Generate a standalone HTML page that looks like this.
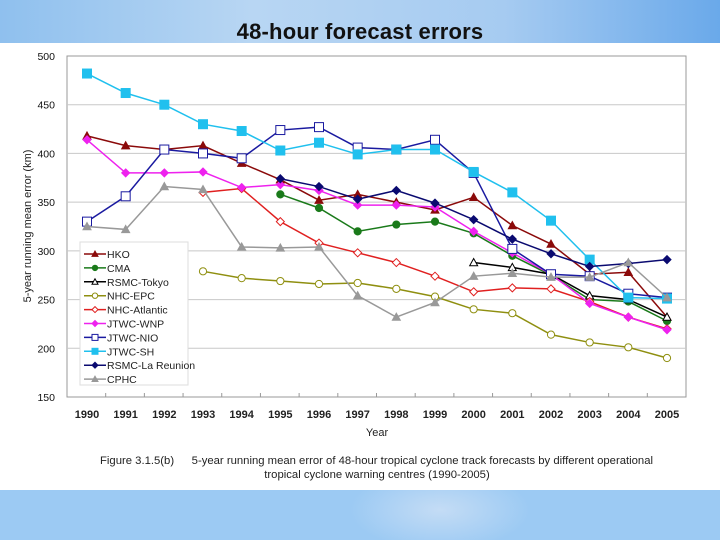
<!DOCTYPE html>
<html><head><meta charset="utf-8"><style>
html,body{margin:0;padding:0;width:720px;height:540px;overflow:hidden;background:#fff;font-family:"Liberation Sans",sans-serif}
#top{position:absolute;left:0;top:0;width:720px;height:43px;background:linear-gradient(90deg,#8fc0ee 0%,#b8d6f3 35%,#a6cbf1 70%,#6aa9ea 100%)}
#bot{position:absolute;left:0;top:490px;width:720px;height:50px;background:radial-gradient(ellipse 90px 40px at 440px 20px,#c4dcf5,#9ccaf3 100%)}
#title{position:absolute;left:0;width:720px;top:19px;text-align:center;font-size:22px;font-weight:bold;color:#111;letter-spacing:0.2px}
svg{position:absolute;left:0;top:0}
</style></head><body>
<div id="top"></div>
<div id="bot"></div>
<div id="title">48-hour forecast errors</div>
<svg id="chart" width="720" height="540"></svg>
<script>
const years=[1990,1991,1992,1993,1994,1995,1996,1997,1998,1999,2000,2001,2002,2003,2004,2005];
const yTicks=[150,200,250,300,350,400,450,500];
const hko=[418,408,404,408,390,373,352,358,350,342,355,326,307,276,278,232];
const cma=[null,null,null,null,null,358,344,320,327,330,318,295,275,250,248,228];
const tokyo=[null,null,null,null,null,null,null,null,null,null,288,283,276,254,250,232];
const nhcEpc=[null,null,null,279,272,269,266,267,261,253,240,236,214,206,201,190];
const nhcAtl=[null,null,null,360,364,330,308,298,288,274,258,262,261,248,232,220];
const jtwcWnp=[414,380,380,381,365,368,362,347,347,345,320,298,276,246,232,219];
const jtwcNio=[330,356,404,400,395,424,427,406,404,414,380,302,276,274,256,252];
const jtwcSh=[482,462,450,430,423,403,411,399,404,404,381,360,331,291,252,251];
const reunion=[null,null,null,null,null,374,366,353,362,349,332,312,297,284,287,291];
const cphc=[325,322,366,363,304,303,304,254,232,247,274,277,273,273,288,252];
const seriesNames=["HKO","CMA","RSMC-Tokyo","NHC-EPC","NHC-Atlantic","JTWC-WNP","JTWC-NIO","JTWC-SH","RSMC-La Reunion","CPHC"];
const seriesData=[hko,cma,tokyo,nhcEpc,nhcAtl,jtwcWnp,jtwcNio,jtwcSh,reunion,cphc];
const seriesColor=["#8b0a0a","#1a7a1a","#000000","#8f8f10","#e02020","#ee22ee","#1a1aa0","#20c0ee","#0a0a70","#999999"];
const seriesMark=["tri","circle","otri","ocircle","odiamond","diamond","osquare","square","diamond","tri"];
const ns="http://www.w3.org/2000/svg";
const svg=document.getElementById('chart');
const X0=67,X1=686,Y0=56,Y1=397;
function xs(i){return 87+i*(667-87)/15;}
function ys(v){return Y1-(v-150)*(Y1-Y0)/350;}
function mk(tag,at,parent){const e=document.createElementNS(ns,tag);for(const k in at)e.setAttribute(k,at[k]);(parent||svg).appendChild(e);return e;}
const frame=mk('rect',{x:X0,y:Y0,width:X1-X0,height:Y1-Y0,fill:'#fff',stroke:'#999','stroke-width':1});


yTicks.forEach(t=>{
  if(t>150&&t<500){const g=mk('line',{x1:X0,x2:X1,y1:ys(t),y2:ys(t),stroke:'#c8c8c8','stroke-width':1});
  
  }
  const tx=mk('text',{x:55,y:ys(t)+4,'font-size':10.5,'text-anchor':'end',fill:'#111'});tx.textContent=t;
  
  
});
years.forEach((yr,i)=>{
  const tk=mk('line',{x1:X0+(i+1)*(X1-X0)/16,x2:X0+(i+1)*(X1-X0)/16,y1:Y1,y2:Y1-4,stroke:'#999'});
  
  
  const tx=mk('text',{x:xs(i),y:418,'font-size':11,'text-anchor':'middle','font-weight':'bold',fill:'#222'});tx.textContent=yr;
  
  
});
const xl=mk('text',{x:377,y:436,'font-size':11,'text-anchor':'middle',fill:'#222'});xl.textContent='Year';


const yl=mk('text',{x:0,y:0,'font-size':11,'text-anchor':'middle',fill:'#222',transform:'translate(31,226) rotate(-90)'});yl.textContent='5-year running mean error (km)';


function marker(g,type,x,y,c,s){
  const fill=type.startsWith('o')?'#fff':c;const t=type.replace(/^o/,'');
  if(t==='tri')mk('polygon',{points:`${x},${y-s} ${x-s},${y+s*0.8} ${x+s},${y+s*0.8}`,fill,stroke:c,'stroke-width':1},g);
  else if(t==='circle')mk('circle',{cx:x,cy:y,r:s*0.9,fill,stroke:c,'stroke-width':1},g);
  else if(t==='square')mk('rect',{x:x-s,y:y-s,width:2*s,height:2*s,fill,stroke:c,'stroke-width':1},g);
  else mk('polygon',{points:`${x},${y-s} ${x+s},${y} ${x},${y+s} ${x-s},${y}`,fill,stroke:c,'stroke-width':1},g);
}
seriesData.forEach((d,si)=>{
  const g=mk('g',{});
  
  
  let pts=[];d.forEach((v,i)=>{if(v!=null)pts.push([xs(i),ys(v)]);});
  mk('polyline',{points:pts.map(p=>p.join(',')).join(' '),fill:'none',stroke:seriesColor[si],'stroke-width':1.5},g);
  const s=seriesMark[si]==='square'||seriesMark[si]==='osquare'?4.5:4;
  pts.forEach(p=>marker(g,seriesMark[si],p[0],p[1],seriesColor[si],s));
});
const lg=mk('g',{});


mk('rect',{x:80,y:242,width:108,height:143,fill:'#fff',stroke:'#ddd'},lg);
seriesNames.forEach((n,i)=>{
  const y=254+i*13.9;
  const e=mk('g',{},lg);
  
  
  mk('line',{x1:84,x2:106,y1:y,y2:y,stroke:seriesColor[i],'stroke-width':1.5},e);
  marker(e,seriesMark[i],95,y,seriesColor[i],3);
  const t=mk('text',{x:107,y:y+4,'font-size':10.5,fill:'#222'},e);t.textContent=n;
});
const c0=mk('text',{x:100,y:464,'font-size':11.3,fill:'#222'});c0.textContent='Figure 3.1.5(b)';


const c1=mk('text',{x:653,y:464,'font-size':11.3,'text-anchor':'end',fill:'#222'});c1.textContent='5-year running mean error of 48-hour tropical cyclone track forecasts by different operational';


const c2=mk('text',{x:377,y:478,'font-size':11.3,'text-anchor':'middle',fill:'#222'});c2.textContent='tropical cyclone warning centres (1990-2005)';


</script>
</body></html>
